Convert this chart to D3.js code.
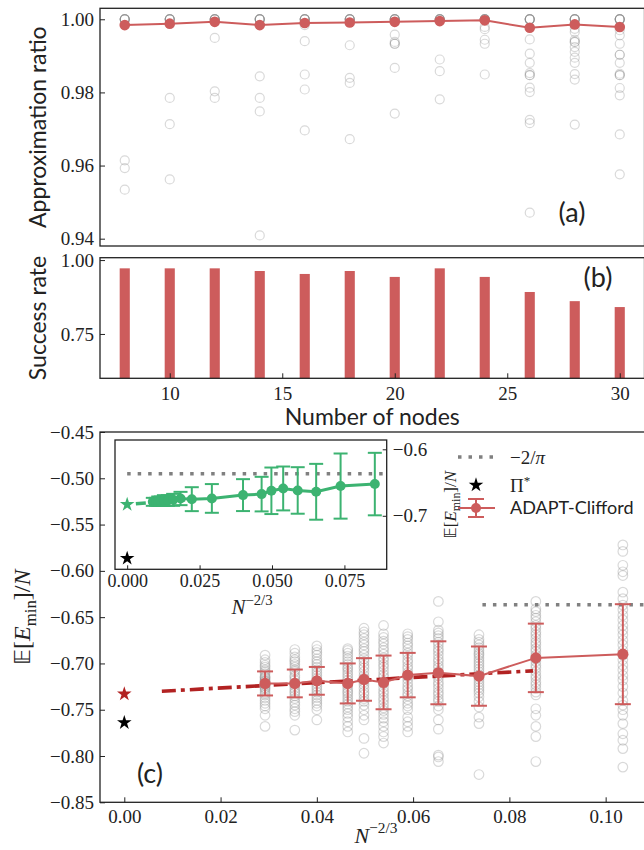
<!DOCTYPE html>
<html><head><meta charset="utf-8">
<script src="https://cdnjs.cloudflare.com/ajax/libs/d3/7.8.5/d3.min.js"></script>
<style>body{margin:0;background:#fff}svg{display:block}</style>
</head><body>
<svg id="chart" width="644" height="850"></svg>
<script>
// ---------------- data ----------------
const nodes = [8,10,12,14,16,18,20,22,24,26,28,30];
const ratioMean = [0.9984,0.9988,0.9993,0.9984,0.9990,0.9991,0.9993,0.9995,0.9997,0.9977,0.9986,0.9979];
const ratioSamples = [
  [1,1,1,1,1,1,0.9614,0.9593,0.9534],
  [1,1,1,1,1,1,0.9785,0.9713,0.9562],
  [1,1,1,1,1,1,0.9949,0.9803,0.9785],
  [1,1,1,1,1,1,0.9844,0.9785,0.9748,0.9409],
  [1,1,1,1,1,1,0.9984,0.9940,0.9849,0.9808,0.9696],
  [1,1,1,1,1,1,0.9929,0.9840,0.9826,0.9672],
  [1,1,1,1,1,1,0.9958,0.9938,0.9933,0.9933,0.9867,0.9742],
  [1,1,1,1,1,1,0.9890,0.9858,0.9781],
  [1,1,1,1,1,1,0.9979,0.9973,0.9944,0.9933,0.9849],
  [1,1,1,1,1,1,0.9945,0.9906,0.9881,0.9853,0.9847,0.9847,0.9813,0.9801,0.9725,0.9716,0.9471],
  [1,1,1,1,1,1,0.9974,0.9965,0.9944,0.9938,0.9938,0.9924,0.9911,0.9895,0.9881,0.9850,0.9835,0.9712],
  [1,1,1,1,1,1,0.9970,0.9956,0.9933,0.9903,0.9903,0.9881,0.9851,0.9847,0.9847,0.9812,0.9792,0.9685,0.9576]
];
const successRate = [0.972,0.972,0.972,0.963,0.953,0.963,0.943,0.972,0.943,0.892,0.861,0.841];

const sizesC = [200,150,125,100,90,80,70,60,50,40,30];
const energyMean = [-0.7216,-0.7216,-0.7188,-0.7216,-0.7173,-0.7205,-0.7126,-0.7101,-0.7137,-0.6940,-0.6900];
const energyErr = [0.013,0.015,0.015,0.0216,0.023,0.029,0.024,0.034,0.032,0.037,0.054];
const energySamples = [
  [-0.691,-0.696,-0.699,-0.702,-0.704,-0.707,-0.709,-0.711,-0.714,-0.715,-0.716,-0.718,-0.719,-0.720,-0.722,-0.723,-0.724,-0.726,-0.727,-0.729,-0.732,-0.734,-0.737,-0.740,-0.743,-0.746,-0.749,-0.756,-0.768],
  [-0.685,-0.689,-0.693,-0.696,-0.698,-0.701,-0.704,-0.707,-0.709,-0.713,-0.715,-0.718,-0.721,-0.724,-0.727,-0.730,-0.732,-0.735,-0.738,-0.742,-0.745,-0.749,-0.752,-0.756,-0.772],
  [-0.681,-0.685,-0.688,-0.691,-0.695,-0.698,-0.701,-0.704,-0.707,-0.710,-0.713,-0.716,-0.719,-0.722,-0.725,-0.728,-0.731,-0.734,-0.737,-0.740,-0.743,-0.746,-0.750,-0.761],
  [-0.684,-0.686,-0.689,-0.692,-0.695,-0.698,-0.701,-0.704,-0.706,-0.709,-0.712,-0.715,-0.718,-0.721,-0.724,-0.727,-0.730,-0.732,-0.735,-0.738,-0.741,-0.744,-0.747,-0.750,-0.754,-0.758,-0.763,-0.768,-0.774],
  [-0.662,-0.666,-0.669,-0.673,-0.677,-0.680,-0.684,-0.687,-0.691,-0.695,-0.698,-0.702,-0.705,-0.709,-0.713,-0.716,-0.720,-0.723,-0.727,-0.731,-0.734,-0.738,-0.741,-0.745,-0.750,-0.756,-0.761,-0.781,-0.797],
  [-0.659,-0.668,-0.672,-0.676,-0.679,-0.683,-0.686,-0.690,-0.694,-0.697,-0.701,-0.704,-0.708,-0.712,-0.715,-0.719,-0.722,-0.726,-0.730,-0.733,-0.737,-0.740,-0.744,-0.748,-0.751,-0.755,-0.759,-0.763,-0.768,-0.774,-0.779,-0.786],
  [-0.668,-0.671,-0.674,-0.678,-0.681,-0.685,-0.689,-0.692,-0.696,-0.699,-0.703,-0.706,-0.710,-0.714,-0.717,-0.721,-0.725,-0.728,-0.732,-0.735,-0.739,-0.743,-0.746,-0.750,-0.758,-0.763,-0.768,-0.774],
  [-0.633,-0.655,-0.664,-0.667,-0.670,-0.673,-0.677,-0.680,-0.684,-0.687,-0.691,-0.695,-0.698,-0.702,-0.705,-0.709,-0.713,-0.716,-0.720,-0.723,-0.727,-0.731,-0.734,-0.738,-0.741,-0.746,-0.750,-0.761,-0.771,-0.799,-0.801,-0.806],
  [-0.669,-0.674,-0.677,-0.680,-0.683,-0.686,-0.689,-0.691,-0.694,-0.697,-0.700,-0.703,-0.706,-0.709,-0.712,-0.714,-0.717,-0.720,-0.723,-0.726,-0.729,-0.732,-0.736,-0.741,-0.747,-0.758,-0.765,-0.820],
  [-0.633,-0.641,-0.644,-0.648,-0.651,-0.655,-0.659,-0.662,-0.666,-0.669,-0.673,-0.677,-0.680,-0.684,-0.687,-0.691,-0.695,-0.698,-0.702,-0.705,-0.709,-0.713,-0.716,-0.720,-0.723,-0.727,-0.731,-0.734,-0.749,-0.756,-0.768,-0.779,-0.806],
  [-0.572,-0.579,-0.594,-0.601,-0.605,-0.623,-0.630,-0.637,-0.642,-0.648,-0.653,-0.659,-0.664,-0.669,-0.675,-0.680,-0.686,-0.691,-0.696,-0.702,-0.707,-0.713,-0.718,-0.725,-0.732,-0.740,-0.745,-0.750,-0.756,-0.765,-0.776,-0.783,-0.792,-0.812]
];
const fitX = [0.0078, 0.0849];
const fitY = [-0.730, -0.708];
const starAdapt = -0.733;
const starPi = -0.764;
const sherrington = -2 / Math.PI;

const insetSizes = [1200,1000,900,800,700,600,500,400,300,200,125,100,90,80,70,60,50,40];
const insetMean = [-0.679,-0.679,-0.678,-0.678,-0.677,-0.677,-0.676,-0.674,-0.675,-0.6739,-0.6689,-0.6674,-0.6624,-0.6589,-0.6619,-0.6639,-0.6553,-0.6523];
const insetErr = [0.006,0.006,0.007,0.007,0.008,0.008,0.009,0.010,0.018,0.0216,0.024,0.026,0.035,0.033,0.035,0.042,0.049,0.047];
const insetStar = -0.683;
const insetFitX = [0.003, 0.02];
const insetFitY = [-0.682, -0.676];

const ratioTicks = [0.94,0.96,0.98,1.00];
const successTicks = [0.75,1.00];
const nodeTicks = [10,15,20,25,30];
const energyTicks = [-0.85,-0.80,-0.75,-0.70,-0.65,-0.60,-0.55,-0.50,-0.45];
const xTicksC = [0,0.02,0.04,0.06,0.08,0.10];
const insetXTicks = [0,0.025,0.05,0.075];
const insetYTicks = [-0.6,-0.7];

// ---------------- style ----------------
const RED = "#cd5c5c", DARKRED = "#b22222", GREEN = "#3cb371", GRAYC = "#808080";
const SERIF = "'Liberation Serif', 'DejaVu Serif', serif";
const SANS = "Lato, 'Open Sans', sans-serif";
const svg = d3.select("#chart");
const invN = n => Math.pow(n, -2/3);

function styleAxis(g, fs) {
  g.select(".domain").remove();
  g.selectAll(".tick line").attr("stroke", "#222").attr("stroke-width", 1);
  g.selectAll(".tick text").attr("font-family", SERIF).attr("font-size", fs).attr("fill", "#222");
}
function frame(x0, x1, y0, y1) {
  svg.append("rect").attr("x", x0).attr("y", y0).attr("width", x1 - x0).attr("height", y1 - y0)
    .attr("fill", "none").attr("stroke", "#222").attr("stroke-width", 1.3);
}

// ---------------- panel (a) ----------------
const A = {l:100, r:644.5, t:8.3, b:246};
const xN = d3.scaleLinear().domain([6.9, 31.1]).range([A.l, A.r]);
const yA = d3.scaleLinear().domain([0.938, 1.003]).range([A.b, A.t]);
const gA = svg.append("g");
nodes.forEach((n, i) => {
  gA.selectAll(null).data(ratioSamples[i]).enter().append("circle")
    .attr("cx", xN(n)).attr("cy", d => yA(d)).attr("r", 4.5)
    .attr("fill", "none").attr("stroke", GRAYC).attr("stroke-opacity", 0.3).attr("stroke-width", 1.2);
});
gA.append("path").datum(nodes.map((n, i) => [n, ratioMean[i]]))
  .attr("d", d3.line().x(d => xN(d[0])).y(d => yA(d[1])))
  .attr("fill", "none").attr("stroke", RED).attr("stroke-width", 2);
gA.selectAll(null).data(nodes).enter().append("circle")
  .attr("cx", d => xN(d)).attr("cy", (d, i) => yA(ratioMean[i])).attr("r", 5.3).attr("fill", RED);
gA.append("g").attr("transform", `translate(${A.l},0)`)
  .call(d3.axisLeft(yA).tickValues(ratioTicks).tickFormat(d3.format(".2f")).tickSizeInner(-5).tickSizeOuter(0).tickPadding(6))
  .call(g => styleAxis(g, 19));
frame(A.l, A.r, A.t, A.b);
svg.append("text").attr("transform", `translate(40,${(A.t + A.b) / 2}) rotate(-90)`)
  .attr("text-anchor", "middle").attr("dominant-baseline", "middle")
  .attr("font-family", SANS).attr("font-size", 23).attr("fill", "#222").text("Approximation ratio");
svg.append("text").attr("x", 572).attr("y", 222).attr("text-anchor", "middle")
  .attr("font-family", SANS).attr("font-size", 27).attr("fill", "#222").text("(a)");

// ---------------- panel (b) ----------------
const B = {l:100, r:644.5, t:257.7, b:378.3};
const yB = d3.scaleLinear().domain([0.6, 1.008]).range([B.b, B.t]);
const barW = 0.45;
svg.append("g").selectAll("rect").data(nodes).enter().append("rect")
  .attr("x", d => xN(d - barW / 2)).attr("width", d => xN(d + barW / 2) - xN(d - barW / 2))
  .attr("y", (d, i) => yB(successRate[i])).attr("height", (d, i) => B.b - yB(successRate[i]))
  .attr("fill", RED);
svg.append("g").attr("transform", `translate(${B.l},0)`)
  .call(d3.axisLeft(yB).tickValues(successTicks).tickFormat(d3.format(".2f")).tickSizeInner(-5).tickSizeOuter(0).tickPadding(6))
  .call(g => styleAxis(g, 19));
svg.append("g").attr("transform", `translate(0,${B.b})`)
  .call(d3.axisBottom(xN).tickValues(nodeTicks).tickFormat(d3.format("d")).tickSizeInner(-5).tickSizeOuter(0).tickPadding(8))
  .call(g => styleAxis(g, 19));
frame(B.l, B.r, B.t, B.b);
svg.append("text").attr("transform", `translate(40,${(B.t + B.b) / 2}) rotate(-90)`)
  .attr("text-anchor", "middle").attr("dominant-baseline", "middle")
  .attr("font-family", SANS).attr("font-size", 23).attr("fill", "#222").text("Success rate");
svg.append("text").attr("x", (B.l + B.r) / 2).attr("y", 425).attr("text-anchor", "middle")
  .attr("font-family", SANS).attr("font-size", 23).attr("fill", "#222").text("Number of nodes");
svg.append("text").attr("x", 598).attr("y", 287).attr("text-anchor", "middle")
  .attr("font-family", SANS).attr("font-size", 27).attr("fill", "#222").text("(b)");

// ---------------- panel (c) ----------------
const C = {l:100, r:648, t:432, b:802.3};
const xC = d3.scaleLinear().domain([-0.00505, 0.1088]).range([C.l, C.r]);
const yC = d3.scaleLinear().domain([-0.85, -0.45]).range([C.b, C.t]);
const gC = svg.append("g");
sizesC.forEach((n, i) => {
  gC.selectAll(null).data(energySamples[i]).enter().append("circle")
    .attr("cx", xC(invN(n))).attr("cy", d => yC(d)).attr("r", 4.8)
    .attr("fill", "none").attr("stroke", GRAYC).attr("stroke-opacity", 0.3).attr("stroke-width", 1.2);
});
gC.append("line").attr("x1", xC(0.0744)).attr("x2", 660).attr("y1", yC(sherrington)).attr("y2", yC(sherrington))
  .attr("stroke", GRAYC).attr("stroke-width", 3.5).attr("stroke-dasharray", "3.5,7");
gC.append("path").datum(fitX.map((x, i) => [x, fitY[i]]))
  .attr("d", d3.line().x(d => xC(d[0])).y(d => yC(d[1])))
  .attr("fill", "none").attr("stroke", DARKRED).attr("stroke-width", 3.6).attr("stroke-dasharray", "14,5,4,5");
gC.append("path").datum(sizesC.map((n, i) => [invN(n), energyMean[i]]))
  .attr("d", d3.line().x(d => xC(d[0])).y(d => yC(d[1])))
  .attr("fill", "none").attr("stroke", RED).attr("stroke-width", 2);
const ebC = gC.selectAll(null).data(sizesC).enter().append("g")
  .attr("transform", d => `translate(${xC(invN(d))},0)`);
ebC.append("line").attr("y1", (d, i) => yC(energyMean[i] - energyErr[i])).attr("y2", (d, i) => yC(energyMean[i] + energyErr[i]))
  .attr("stroke", RED).attr("stroke-width", 2);
[-1, 1].forEach(s => {
  ebC.append("line").attr("x1", -8).attr("x2", 8)
    .attr("y1", (d, i) => yC(energyMean[i] + s * energyErr[i])).attr("y2", (d, i) => yC(energyMean[i] + s * energyErr[i]))
    .attr("stroke", RED).attr("stroke-width", 2);
});
ebC.append("circle").attr("cy", (d, i) => yC(energyMean[i])).attr("r", 5.6).attr("fill", RED);
const star = d3.symbol().type(d3.symbolStar).size(66);
gC.append("path").attr("d", star).attr("transform", `translate(${xC(0)},${yC(starAdapt)})`).attr("fill", DARKRED);
gC.append("path").attr("d", star).attr("transform", `translate(${xC(0)},${yC(starPi)})`).attr("fill", "#000");
svg.append("g").attr("transform", `translate(${C.l},0)`)
  .call(d3.axisLeft(yC).tickValues(energyTicks).tickFormat(d3.format(".2f")).tickSizeInner(-5).tickSizeOuter(0).tickPadding(6))
  .call(g => styleAxis(g, 19));
svg.append("g").attr("transform", `translate(0,${C.b})`)
  .call(d3.axisBottom(xC).tickValues(xTicksC).tickFormat(d3.format(".2f")).tickSizeInner(-5).tickSizeOuter(0).tickPadding(7))
  .call(g => styleAxis(g, 19));
frame(C.l, C.r, C.t, C.b);
svg.append("text").attr("x", 150).attr("y", 783).attr("text-anchor", "middle")
  .attr("font-family", SANS).attr("font-size", 27).attr("fill", "#222").text("(c)");

// N^{-2/3} labels
function nLabel(x, y, fs) {
  const t = svg.append("text").attr("x", x).attr("y", y).attr("text-anchor", "middle")
    .attr("font-family", SERIF).attr("fill", "#222").attr("font-size", fs);
  t.append("tspan").attr("font-style", "italic").text("N");
  t.append("tspan").attr("dy", -fs * 0.45).attr("font-size", fs * 0.7).text("−2/3");
}
nLabel(376, 843, 22);

// E[E_min]/N label
function eLabel(x, y, fs) {
  const t = svg.append("text").attr("transform", `translate(${x},${y}) rotate(-90)`)
    .attr("text-anchor", "middle").attr("font-family", SERIF).attr("fill", "#222").attr("font-size", fs);
  t.append("tspan").attr("font-family", "'DejaVu Sans', 'Noto Sans', sans-serif").attr("font-size", fs * 0.9).text("𝔼");
  t.append("tspan").text("[");
  t.append("tspan").attr("font-style", "italic").text("E");
  t.append("tspan").attr("dy", fs * 0.25).attr("font-size", fs * 0.7).text("min");
  t.append("tspan").attr("dy", -fs * 0.25).text("]/");
  t.append("tspan").attr("font-style", "italic").text("N");
}
eLabel(30, (C.t + C.b) / 2, 24);

// ---------------- inset ----------------
const I = {l:115, r:386.7, t:440, b:569.3};
const xI = d3.scaleLinear().domain([-0.0042, 0.0896]).range([I.l, I.r]);
const yI = d3.scaleLinear().domain([-0.7805, -0.586]).range([I.b, I.t]);
svg.append("rect").attr("x", I.l).attr("y", I.t).attr("width", I.r - I.l).attr("height", I.b - I.t).attr("fill", "#fff");
const gI = svg.append("g");
gI.append("line").attr("x1", xI(0)).attr("x2", I.r).attr("y1", yI(sherrington)).attr("y2", yI(sherrington))
  .attr("stroke", GRAYC).attr("stroke-width", 3.5).attr("stroke-dasharray", "3.5,7");
gI.append("path").datum(insetFitX.map((x, i) => [x, insetFitY[i]]))
  .attr("d", d3.line().x(d => xI(d[0])).y(d => yI(d[1])))
  .attr("fill", "none").attr("stroke", GREEN).attr("stroke-width", 3.6).attr("stroke-dasharray", "10,5,3,5");
gI.append("path").datum(insetSizes.map((n, i) => [invN(n), insetMean[i]]))
  .attr("d", d3.line().x(d => xI(d[0])).y(d => yI(d[1])))
  .attr("fill", "none").attr("stroke", GREEN).attr("stroke-width", 3);
const ebI = gI.selectAll(null).data(insetSizes).enter().append("g")
  .attr("transform", d => `translate(${xI(invN(d))},0)`);
ebI.append("line").attr("y1", (d, i) => yI(insetMean[i] - insetErr[i])).attr("y2", (d, i) => yI(insetMean[i] + insetErr[i]))
  .attr("stroke", GREEN).attr("stroke-width", 2);
[-1, 1].forEach(s => {
  ebI.append("line").attr("x1", -7).attr("x2", 7)
    .attr("y1", (d, i) => yI(insetMean[i] + s * insetErr[i])).attr("y2", (d, i) => yI(insetMean[i] + s * insetErr[i]))
    .attr("stroke", GREEN).attr("stroke-width", 2);
});
ebI.append("circle").attr("cy", (d, i) => yI(insetMean[i])).attr("r", 5).attr("fill", GREEN);
gI.append("path").attr("d", star).attr("transform", `translate(${xI(0)},${yI(insetStar)})`).attr("fill", GREEN);
gI.append("path").attr("d", star).attr("transform", `translate(${xI(0)},${yI(starPi)})`).attr("fill", "#000");
svg.append("g").attr("transform", `translate(0,${I.b})`)
  .call(d3.axisBottom(xI).tickValues(insetXTicks).tickFormat(d3.format(".3f")).tickSizeInner(-4).tickSizeOuter(0).tickPadding(5))
  .call(g => styleAxis(g, 18));
svg.append("g").attr("transform", `translate(${I.r},0)`)
  .call(d3.axisRight(yI).tickValues(insetYTicks).tickFormat(d3.format(".1f")).tickSizeInner(-4).tickSizeOuter(0).tickPadding(6))
  .call(g => styleAxis(g, 19));
frame(I.l, I.r, I.t, I.b);
nLabel(252, 614, 21);
eLabel(456, (I.t + I.b) / 2, 17);

// ---------------- legend ----------------
const L = svg.append("g");
L.append("line").attr("x1", 458).attr("x2", 495).attr("y1", 457).attr("y2", 457)
  .attr("stroke", GRAYC).attr("stroke-width", 3.5).attr("stroke-dasharray", "3.5,7");
const lt1 = L.append("text").attr("x", 510).attr("y", 464).attr("font-family", SERIF).attr("font-size", 19).attr("fill", "#222");
lt1.append("tspan").text("−2/");
lt1.append("tspan").attr("font-style", "italic").text("π");
L.append("path").attr("d", star).attr("transform", "translate(476,485)").attr("fill", "#000");
const lt2 = L.append("text").attr("x", 510).attr("y", 492).attr("font-family", SERIF).attr("font-size", 19).attr("fill", "#222");
lt2.append("tspan").text("Π");
lt2.append("tspan").attr("dy", -7).attr("font-size", 13).text("*");
L.append("line").attr("x1", 458).attr("x2", 495).attr("y1", 508).attr("y2", 508).attr("stroke", RED).attr("stroke-width", 2);
L.append("line").attr("x1", 476).attr("x2", 476).attr("y1", 499).attr("y2", 517).attr("stroke", RED).attr("stroke-width", 2);
L.append("line").attr("x1", 468).attr("x2", 484).attr("y1", 499).attr("y2", 499).attr("stroke", RED).attr("stroke-width", 2);
L.append("line").attr("x1", 468).attr("x2", 484).attr("y1", 517).attr("y2", 517).attr("stroke", RED).attr("stroke-width", 2);
L.append("circle").attr("cx", 476).attr("cy", 508).attr("r", 5).attr("fill", RED);
L.append("text").attr("x", 510).attr("y", 514).attr("font-family", SANS).attr("font-size", 18).attr("fill", "#222").text("ADAPT-Clifford");
</script>
</body></html>
